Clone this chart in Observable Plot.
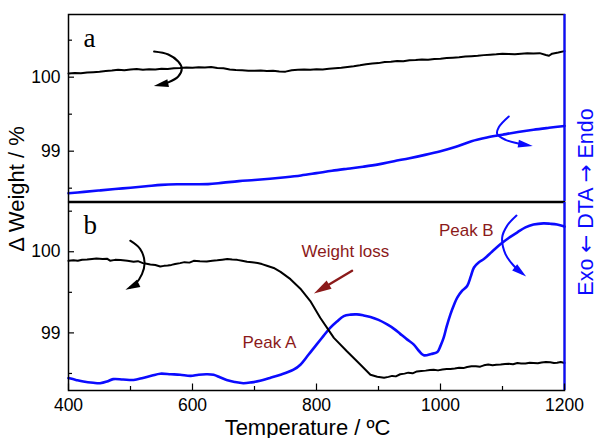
<!DOCTYPE html>
<html>
<head>
<meta charset="utf-8">
<script src="https://cdn.jsdelivr.net/npm/d3@7"></script>
<script src="https://cdn.jsdelivr.net/npm/@observablehq/plot@0.6"></script>
<style>
  html, body { margin: 0; padding: 0; background: #fff; }
  #chart { position: relative; width: 599px; height: 438px; overflow: hidden; font-family: "Liberation Sans", Arial, sans-serif; }
  #chart svg { position: absolute; left: 0; }
  .vtitle { position: absolute; white-space: nowrap; line-height: 1; transform: translate(-50%, -50%) rotate(-90deg); }
  .arw { font-family: "DejaVu Sans", sans-serif; }
</style>
</head>
<body>
<div id="chart"></div>
<script>
// ---------------- data ----------------
const X_DOMAIN = [400, 1200];
const xMajor = [400, 600, 800, 1000, 1200];
const xMinor = [500, 700, 900, 1100];
const yMajor = [99, 100];
const yMinor = [98.5, 99.5, 100.5];
const yDomainA = [98.32, 100.847];
const yDomainB = [98.29, 100.607];

const xTitle = "Temperature / ºC";
const yTitle = "Δ Weight / %";
const y2TitleParts = ["Exo ", "←", " DTA ", "→", " Endo"];
const panelLabels = ["a", "b"];

// Panel a: TG (weight, %)
const tgA_T = [400,410,420,430,440,450,460,470,480,490,500,510,520,530,540,550,560,570,580,590,600,610,620,630,640,650,660,670,680,690,700,710,720,730,740,750,760,770,780,790,800,810,820,830,840,850,860,870,880,890,900,910,920,930,940,950,960,970,980,990,1000,1010,1020,1030,1040,1050,1060,1070,1080,1090,1100,1110,1120,1130,1140,1150,1160,1170,1175,1180,1190,1200];
const tgA_W = [100.05,100.058,100.052,100.062,100.068,100.074,100.082,100.09,100.1,100.094,100.104,100.11,100.1,100.108,100.104,100.114,100.11,100.12,100.124,100.13,100.127,100.135,100.131,100.137,100.124,100.12,100.104,100.097,100.092,100.087,100.086,100.091,100.082,100.087,100.078,100.075,100.094,100.1,100.105,100.101,100.108,100.104,100.114,100.12,100.127,100.138,100.148,100.16,100.174,100.184,100.19,100.204,100.21,100.22,100.214,100.228,100.232,100.238,100.234,100.245,100.25,100.258,100.264,100.27,100.278,100.284,100.29,100.298,100.304,100.31,100.318,100.314,100.311,100.318,100.322,100.319,100.325,100.3,100.29,100.318,100.334,100.352];

// Panel a: DTA (read in left-axis units)
const dtaA_T = [400,425,450,475,500,525,550,575,600,625,650,675,700,725,750,775,800,825,850,875,900,925,950,975,1000,1025,1050,1075,1100,1125,1150,1175,1200];
const dtaA_V = [98.432,98.45,98.469,98.488,98.506,98.525,98.545,98.553,98.553,98.555,98.575,98.595,98.61,98.628,98.648,98.672,98.703,98.735,98.763,98.79,98.822,98.865,98.905,98.95,99.0,99.06,99.135,99.185,99.222,99.258,99.29,99.316,99.34];

// Panel b: TG
const tgB_T = [400,408,415,422,430,438,445,455,462,467,475,484,495,505,512,520,526,532,540,548,554,560,566,572,580,587,595,602,612,623,632,640,648,656,664,672,680,688,696,705,712,720,731,742,758,774,790,806,828,849,871,887,898,909,916,922,928,935,942,948,955,962,969,976,983,989,996,1003,1010,1016,1023,1030,1037,1043,1050,1057,1064,1070,1077,1084,1090,1097,1104,1110,1117,1124,1130,1137,1144,1150,1157,1163,1170,1177,1183,1188,1194,1200];
const tgB_W = [99.888,99.896,99.89,99.902,99.905,99.912,99.918,99.912,99.915,99.89,99.9,99.897,99.888,99.876,99.884,99.86,99.852,99.843,99.836,99.818,99.826,99.83,99.838,99.848,99.86,99.872,99.866,99.888,99.882,99.88,99.89,99.895,99.902,99.91,99.904,99.9,99.89,99.878,99.872,99.862,99.848,99.828,99.8,99.752,99.662,99.545,99.393,99.186,98.938,98.773,98.608,98.484,98.46,98.448,98.458,98.47,98.464,98.49,98.498,98.51,98.502,98.525,98.53,98.535,98.542,98.546,98.538,98.548,98.554,98.556,98.562,98.57,98.566,98.58,98.588,98.59,98.584,98.6,98.61,98.602,98.608,98.61,98.616,98.62,98.614,98.628,98.624,98.622,98.632,98.63,98.626,98.635,98.642,98.638,98.63,98.632,98.64,98.63];

// Panel b: DTA
const dtaB_T = [400,412,424,440,451,462,472,488,505,520,535,548,565,580,597,610,623,634,645,655,668,682,695,709,725,742,763,774,787,800,811,822,833,844,855,865,876,887,900,914,925,935,946,957,965,973,985,995,1000,1005,1010,1016,1022,1027,1035,1043,1049,1054,1062,1070,1083,1097,1110,1124,1137,1150,1166,1177,1188,1200];
const dtaB_V = [98.443,98.42,98.40,98.385,98.38,98.40,98.43,98.425,98.42,98.445,98.475,98.497,98.49,98.484,98.47,98.485,98.49,98.484,98.45,98.42,98.395,98.38,98.39,98.41,98.445,98.484,98.546,98.608,98.73,98.856,98.96,99.062,99.14,99.207,99.225,99.228,99.215,99.195,99.16,99.104,99.05,98.988,98.92,98.856,98.78,98.724,98.74,98.765,98.84,98.938,99.08,99.228,99.35,99.434,99.52,99.579,99.7,99.806,99.87,99.91,100.0,100.095,100.17,100.24,100.3,100.335,100.35,100.345,100.335,100.31];

// Annotation arrows (data coordinates)
const hookA_TG_T = [538, 561, 577, 582.7, 577, 561, 546];
const hookA_TG_V = [100.347, 100.307, 100.212, 100.118, 100.009, 99.93, 99.895];
const hookA_DTA_T = [1110.1, 1094, 1091.4, 1104.8, 1123.7, 1140.3];
const hookA_DTA_V = [99.469, 99.324, 99.235, 99.154, 99.108, 99.082];
const hookB_TG_T = [499.6, 515.7, 522.7, 518.5, 507.6, 499.6];
const hookB_TG_V = [100.136, 100.033, 99.868, 99.724, 99.6, 99.56];
const hookB_DTA_T = [1122.6, 1107.6, 1099.5, 1104.8, 1118.2, 1131.4];
const hookB_DTA_V = [100.446, 100.322, 100.177, 99.971, 99.827, 99.736];
const lossArrow_T = [857.4, 804.8];
const lossArrow_V = [99.765, 99.525];

// Annotation texts (panel b)
const noteText = ["Weight loss", "Peak A", "Peak B"];
const noteT = [846.6, 723.9, 1041.6];
const noteV = [100.0, 98.876, 100.26];

// ---------------- drawing ----------------
const BLUE = "#0b0bff";
const DARKRED = "#8b1a1a";
const FONT = "'Liberation Sans', Arial, sans-serif";
const SERIF = "'Liberation Serif', 'Times New Roman', serif";
const zip = (T, V) => T.map((t, i) => ({t, v: V[i]}));
const fmt = d => String(d);

function yAxes() {
  return [
    Plot.axisY({ticks: yMajor, tickSize: 0, tickPadding: 8, tickFormat: fmt, label: null, fontSize: 17.5}),
    Plot.axisY({ticks: yMajor, tickSize: -6, tickFormat: () => "", label: null, strokeWidth: 1.2}),
    Plot.axisY({ticks: yMinor, tickSize: -4, tickFormat: () => "", label: null, strokeWidth: 1.2})
  ];
}
function hook(T, V, color, w) {
  return Plot.line(zip(T, V), {x: "t", y: "v", curve: "catmull-rom", stroke: color, strokeWidth: w, markerEnd: "arrow"});
}
function fixMarkers(svg) {
  svg.querySelectorAll("marker").forEach(m => {
    const c = m.getAttribute("stroke") || "black";
    m.setAttribute("viewBox", "-10 -5 15 10");
    m.setAttribute("markerWidth", 10);
    m.setAttribute("markerHeight", 6.67);
    m.setAttribute("fill", c);
    m.setAttribute("stroke", "none");
    m.setAttribute("overflow", "visible");
    const p = m.querySelector("path");
    if (p) p.setAttribute("d", "M-7,-3L4,0L-7,3Z");
  });
}

const common = {
  width: 599, marginLeft: 68, marginRight: 35,
  x: {domain: X_DOMAIN, axis: null},
  style: {fontFamily: FONT, fontSize: "17.5px", background: "transparent", color: "black", overflow: "visible"}
};

const plotA = Plot.plot({
  ...common,
  height: 202, marginTop: 14, marginBottom: 1,
  y: {domain: yDomainA, axis: null},
  marks: [
    Plot.line(zip(dtaA_T, dtaA_V), {x: "t", y: "v", curve: "catmull-rom", stroke: BLUE, strokeWidth: 2.6}),
    Plot.line(zip(tgA_T, tgA_W), {x: "t", y: "v", stroke: "black", strokeWidth: 2}),
    hook(hookA_TG_T, hookA_TG_V, "black", 2),
    hook(hookA_DTA_T, hookA_DTA_V, BLUE, 2),
    Plot.text([panelLabels[0]], {text: d => d, frameAnchor: "top-left", textAnchor: "start", lineAnchor: "top", dx: 15, dy: 13, fontFamily: SERIF, fontSize: 27}),
    Plot.frame({stroke: "black", strokeWidth: 1.5}),
    Plot.ruleX([1200], {stroke: BLUE, strokeWidth: 2.2}),
    ...yAxes()
  ]
});

const plotB = Plot.plot({
  ...common,
  height: 237, marginTop: 1, marginBottom: 48,
  y: {domain: yDomainB, axis: null},
  marks: [
    Plot.line(zip(dtaB_T, dtaB_V), {x: "t", y: "v", curve: "catmull-rom", stroke: BLUE, strokeWidth: 2.6}),
    Plot.line(zip(tgB_T, tgB_W), {x: "t", y: "v", stroke: "black", strokeWidth: 2}),
    hook(hookB_TG_T, hookB_TG_V, "black", 2),
    hook(hookB_DTA_T, hookB_DTA_V, BLUE, 2),
    hook(lossArrow_T, lossArrow_V, DARKRED, 2.4),
    Plot.text(noteText.map((s, i) => ({s, t: noteT[i], v: noteV[i]})), {x: "t", y: "v", text: "s", fill: DARKRED, fontSize: 17, textAnchor: "middle", lineAnchor: "middle"}),
    Plot.text([panelLabels[1]], {text: d => d, frameAnchor: "top-left", textAnchor: "start", lineAnchor: "top", dx: 15, dy: 12, fontFamily: SERIF, fontSize: 27}),
    Plot.text([xTitle], {text: d => d, frameAnchor: "bottom", textAnchor: "middle", lineAnchor: "bottom", dx: -9, dy: 44, fontSize: 22}),
    Plot.frame({stroke: "black", strokeWidth: 1.5}),
    Plot.ruleX([1200], {stroke: BLUE, strokeWidth: 2.2}),
    ...yAxes(),
    Plot.axisX({ticks: xMajor, tickSize: 0, tickPadding: 8, tickFormat: fmt, label: null, fontSize: 17.5}),
    Plot.axisX({ticks: xMajor, tickSize: -6.5, tickFormat: () => "", label: null, strokeWidth: 1.2}),
    Plot.axisX({ticks: xMinor, tickSize: -4, tickFormat: () => "", label: null, strokeWidth: 1.2})
  ]
});

fixMarkers(plotA);
fixMarkers(plotB);

const chart = document.getElementById("chart");
plotA.style.top = "0px";
plotB.style.top = "201px";
chart.appendChild(plotA);
chart.appendChild(plotB);

const yt = document.createElement("div");
yt.className = "vtitle";
yt.textContent = yTitle;
Object.assign(yt.style, {left: "16.5px", top: "189px", fontSize: "22px", color: "black"});
chart.appendChild(yt);

const y2t = document.createElement("div");
y2t.className = "vtitle";
y2TitleParts.forEach((s, i) => {
  const sp = document.createElement("span");
  sp.textContent = s;
  if (i % 2 === 1) sp.className = "arw";
  y2t.appendChild(sp);
});
Object.assign(y2t.style, {left: "585.5px", top: "201.5px", fontSize: "21.5px", color: BLUE});
chart.appendChild(y2t);
</script>
</body>
</html>
